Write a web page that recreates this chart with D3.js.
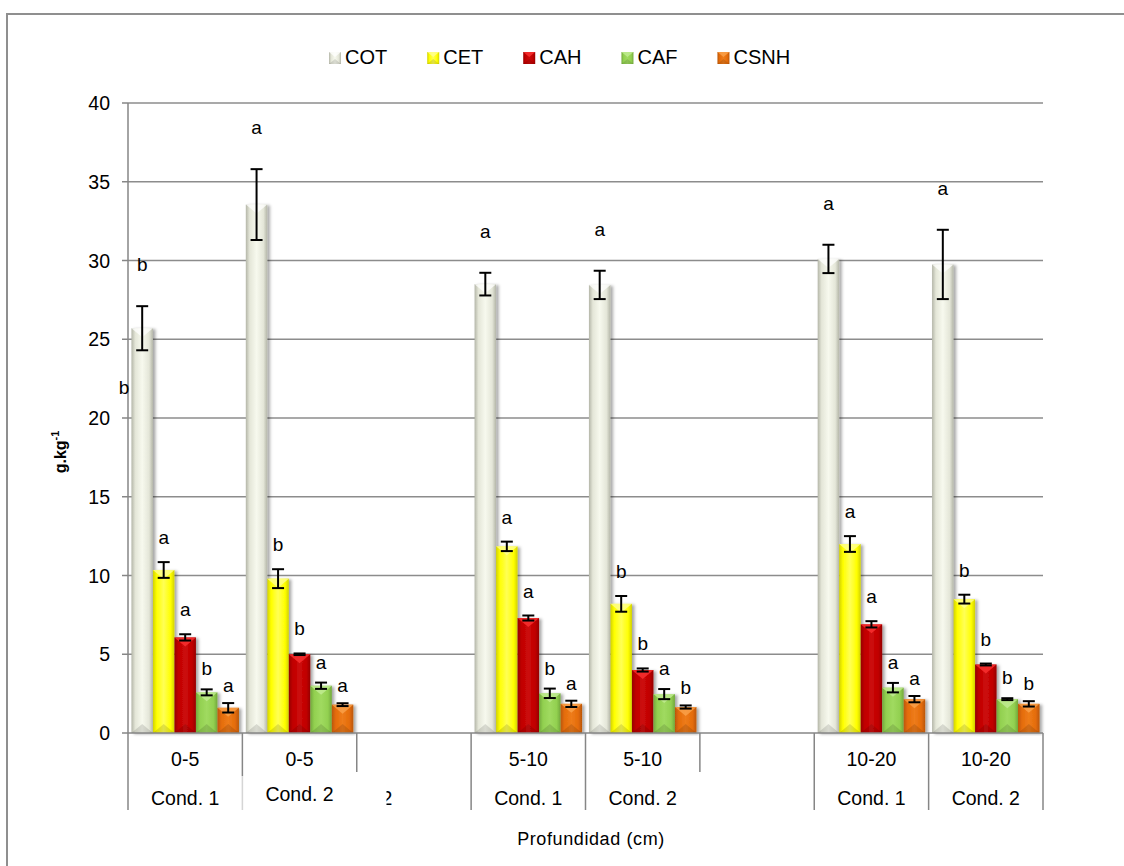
<!DOCTYPE html>
<html>
<head>
<meta charset="utf-8">
<script src="https://cdn.jsdelivr.net/npm/d3@7"></script>
<style>
  html, body { margin: 0; padding: 0; background: #fff; }
  svg { display: block; font-family: "Liberation Sans", Arial, sans-serif; }
</style>
</head>
<body>
<svg id="chart" width="1124" height="866"></svg>
<script>
// ---- data ----
const series = ["COT", "CET", "CAH", "CAF", "CSNH"];
const depthLabels = ["0-5", "0-5", "", "5-10", "5-10", "", "10-20", "10-20"];
const condLabels  = ["Cond. 1", "Cond. 2", "", "Cond. 1", "Cond. 2", "", "Cond. 1", "Cond. 2"];

const cotValues  = [25.7, 33.55, null, 28.5, 28.45, null, 30.1, 29.75];
const cetValues  = [10.35, 9.8, null, 11.85, 8.2, null, 12.0, 8.5];
const cahValues  = [6.07, 5.0, null, 7.3, 4.0, null, 6.9, 4.35];
const cafValues  = [2.58, 3.0, null, 2.52, 2.47, null, 2.88, 2.15];
const csnhValues = [1.6, 1.8, null, 1.85, 1.65, null, 2.15, 1.85];

const cotErrors  = [1.4, 2.25, null, 0.72, 0.9, null, 0.9, 2.2];
const cetErrors  = [0.5, 0.6, null, 0.3, 0.5, null, 0.5, 0.28];
const cahErrors  = [0.2, 0.05, null, 0.16, 0.1, null, 0.2, 0.06];
const cafErrors  = [0.19, 0.2, null, 0.3, 0.32, null, 0.3, 0.06];
const csnhErrors = [0.3, 0.09, null, 0.2, 0.1, null, 0.2, 0.17];

const cotLetters  = ["b", "a", null, "a", "a", null, "a", "a"];
const cetLetters  = ["a", "b", null, "a", "b", null, "a", "b"];
const cahLetters  = ["a", "b", null, "a", "b", null, "a", "b"];
const cafLetters  = ["b", "a", null, "b", "a", null, "a", "b"];
const csnhLetters = ["a", "a", null, "a", "b", null, "a", "b"];

const yTicks = [0, 5, 10, 15, 20, 25, 30, 35, 40];
const yTitle = "g.kg";
const yTitleSup = "-1";
const xTitle = "Profundidad (cm)";

const valuesBySeries  = [cotValues, cetValues, cahValues, cafValues, csnhValues];
const errorsBySeries  = [cotErrors, cetErrors, cahErrors, cafErrors, csnhErrors];
const lettersBySeries = [cotLetters, cetLetters, cahLetters, cafLetters, csnhLetters];

// ---- styling ----
const palette = {
  COT:  { dark: "#b4b6a8", mid: "#e4e6d8", light: "#f7f9ee", top: "#ffffff" },
  CET:  { dark: "#d2d200", mid: "#ffff00", light: "#ffff55", top: "#ffff9a" },
  CAH:  { dark: "#960000", mid: "#c00000", light: "#cc0b0b", top: "#ff3535" },
  CAF:  { dark: "#72a83c", mid: "#92d050", light: "#a0da60", top: "#c4ee98" },
  CSNH: { dark: "#bb5606", mid: "#e46c0a", light: "#ee7c1a", top: "#fba550" }
};
const letterOffset = [41, 24, 24, 20, 17]; // px gap above error caps, per series
const gridColor = "#8c8c8c";

const svg = d3.select("#chart");
const plot = { left: 128, right: 1043, top: 103, bottom: 733 };

const y = d3.scaleLinear().domain([0, 40]).range([plot.bottom, plot.top]);
const slots = d3.range(depthLabels.length);
const x = d3.scaleBand().domain(slots).range([plot.left, plot.right]).padding(0);
const xs = d3.scaleBand().domain(series).range([0, x.bandwidth()]).paddingInner(0).paddingOuter(0.16);

// ---- defs: gradients + shadow ----
const defs = svg.append("defs");
series.forEach(s => {
  const c = palette[s];
  const g = defs.append("linearGradient").attr("id", "grad-" + s)
    .attr("x1", 0).attr("x2", 1).attr("y1", 0).attr("y2", 0);
  g.append("stop").attr("offset", 0).attr("stop-color", c.dark);
  g.append("stop").attr("offset", 0.18).attr("stop-color", c.mid);
  g.append("stop").attr("offset", 0.5).attr("stop-color", c.light);
  g.append("stop").attr("offset", 0.82).attr("stop-color", c.mid);
  g.append("stop").attr("offset", 1).attr("stop-color", c.dark);
});
const f = defs.append("filter").attr("id", "shadow")
  .attr("x", "-30%").attr("y", "-5%").attr("width", "170%").attr("height", "115%");
f.append("feDropShadow").attr("dx", 2.5).attr("dy", 1).attr("stdDeviation", 1.6)
  .attr("flood-color", "#000").attr("flood-opacity", 0.35);
defs.append("clipPath").attr("id", "clip-frag")
  .append("rect").attr("x", 386.5).attr("y", 770).attr("width", 20).attr("height", 50);

// ---- outer frame ----
svg.append("rect").attr("x", 7).attr("y", 14).attr("width", 1140).attr("height", 880)
  .attr("fill", "none").attr("stroke", "#8f8f8f").attr("stroke-width", 2);

// ---- gridlines ----
svg.append("g").selectAll("line").data(yTicks.filter(t => t > 0)).join("line")
  .attr("x1", plot.left).attr("x2", plot.right)
  .attr("y1", d => y(d)).attr("y2", d => y(d))
  .attr("stroke", gridColor).attr("stroke-width", 1.5);

// ---- bevelled bar ----
function drawBevelBar(g, s, bx, by, bw, bh, depth) {
  const c = palette[s];
  g.append("rect").attr("x", bx).attr("y", by).attr("width", bw).attr("height", bh)
    .attr("fill", `url(#grad-${s})`);
  const d = Math.min(depth, bh / 2);
  g.append("polygon")
    .attr("points", [[bx, by], [bx + bw, by], [bx + bw / 2, by + d]].map(p => p.join(",")).join(" "))
    .attr("fill", c.top).attr("opacity", 0.75);
  g.append("polygon")
    .attr("points", [[bx, by + bh], [bx + bw, by + bh], [bx + bw / 2, by + bh - d]].map(p => p.join(",")).join(" "))
    .attr("fill", "#000").attr("opacity", 0.12);
}

// ---- bars ----
const barsG = svg.append("g");
slots.forEach(i => {
  series.forEach((s, k) => {
    const v = valuesBySeries[k][i];
    if (v == null) return;
    const bx = x(i) + xs(s);
    const bw = xs.bandwidth();
    const g = barsG.append("g").attr("filter", "url(#shadow)");
    drawBevelBar(g, s, bx, y(v), bw, y(0) - y(v), 9);
  });
});

// ---- axes ----
const axisColor = "#868686";
svg.append("line").attr("x1", plot.left).attr("x2", plot.left)
  .attr("y1", plot.top).attr("y2", plot.bottom)
  .attr("stroke", axisColor).attr("stroke-width", 1.5);
svg.append("g").selectAll("line").data(yTicks).join("line")
  .attr("x1", plot.left - 6).attr("x2", plot.left)
  .attr("y1", d => y(d)).attr("y2", d => y(d))
  .attr("stroke", axisColor).attr("stroke-width", 1.5);
svg.append("g").selectAll("text").data(yTicks).join("text")
  .attr("x", 110).attr("y", d => y(d) + 7)
  .attr("text-anchor", "end").attr("font-size", 19.5).attr("fill", "#000")
  .text(d => d);

svg.append("line").attr("x1", plot.left).attr("x2", plot.right)
  .attr("y1", plot.bottom).attr("y2", plot.bottom)
  .attr("stroke", axisColor).attr("stroke-width", 1.5);

// category separators (two label rows)
const edges = d3.range(slots.length + 1).map(i => plot.left + i * x.step());
const lowerRule = [1, 0.35, 0, 1, 1, 0, 1, 1, 1];
const sepG = svg.append("g").attr("stroke-width", 1.5);
edges.forEach((ex, i) => {
  const r = lowerRule[i];
  sepG.append("line").attr("x1", ex).attr("x2", ex)
    .attr("y1", plot.bottom).attr("y2", r === 0 ? 772 : (r < 1 ? 776 : 810))
    .attr("stroke", axisColor);
  if (r > 0 && r < 1) {
    sepG.append("line").attr("x1", ex).attr("x2", ex).attr("y1", 776).attr("y2", 810)
      .attr("stroke", axisColor).attr("stroke-opacity", r);
  }
});

svg.append("g").selectAll("text").data(slots.filter(i => depthLabels[i])).join("text")
  .attr("x", i => x(i) + x.bandwidth() / 2).attr("y", 766)
  .attr("text-anchor", "middle").attr("font-size", 19.5).text(i => depthLabels[i]);
svg.append("g").selectAll("text").data(slots.filter(i => condLabels[i])).join("text")
  .attr("x", i => x(i) + x.bandwidth() / 2).attr("y", i => i === 1 ? 801 : 805)
  .attr("text-anchor", "middle").attr("font-size", 19.5).text(i => condLabels[i]);
// partly hidden label fragment in the empty slot
svg.append("text").attr("x", 381.5).attr("y", 805).attr("font-size", 19.5)
  .attr("clip-path", "url(#clip-frag)").text("2");

// ---- error bars ----
const errG = svg.append("g").attr("stroke", "#000").attr("stroke-width", 2);
slots.forEach(i => {
  series.forEach((s, k) => {
    const v = valuesBySeries[k][i], e = errorsBySeries[k][i];
    if (v == null || e == null) return;
    const cx = x(i) + xs(s) + xs.bandwidth() / 2;
    errG.append("line").attr("x1", cx).attr("x2", cx).attr("y1", y(v + e)).attr("y2", y(v - e));
    errG.append("line").attr("x1", cx - 6).attr("x2", cx + 6).attr("y1", y(v + e)).attr("y2", y(v + e));
    errG.append("line").attr("x1", cx - 6).attr("x2", cx + 6).attr("y1", y(v - e)).attr("y2", y(v - e));
  });
});

// ---- significance letters ----
const letG = svg.append("g").attr("font-size", 19).attr("text-anchor", "middle").attr("fill", "#000");
slots.forEach(i => {
  series.forEach((s, k) => {
    const v = valuesBySeries[k][i], e = errorsBySeries[k][i], t = lettersBySeries[k][i];
    if (v == null || !t) return;
    const cx = x(i) + xs(s) + xs.bandwidth() / 2;
    letG.append("text").attr("x", cx).attr("y", y(v + (e || 0)) - letterOffset[k] + 6).text(t);
  });
});
// extra letter beside the first COT bar
letG.append("text").attr("x", x(0) - 4).attr("y", y(21.9) + 6).text(cotLetters[0]);

// ---- axis titles ----
const yt = svg.append("text").attr("transform", "translate(66,452) rotate(-90)")
  .attr("text-anchor", "middle").attr("font-size", 16).attr("font-weight", "bold");
yt.append("tspan").text(yTitle);
yt.append("tspan").attr("font-size", 11).attr("dy", -7).text(yTitleSup);

svg.append("text").attr("x", 591).attr("y", 845).attr("text-anchor", "middle")
  .attr("font-size", 18).attr("letter-spacing", 0.6).text(xTitle);

// ---- legend ----
const legend = svg.append("g");
let lx = 329;
series.forEach(s => {
  const g = legend.append("g");
  drawBevelBar(g, s, lx, 52, 12, 12, 5);
  const t = legend.append("text").attr("x", lx + 16).attr("y", 64)
    .attr("font-size", 20).text(s);
  lx += 16 + t.node().getComputedTextLength() + 40;
});
</script>
</body>
</html>
